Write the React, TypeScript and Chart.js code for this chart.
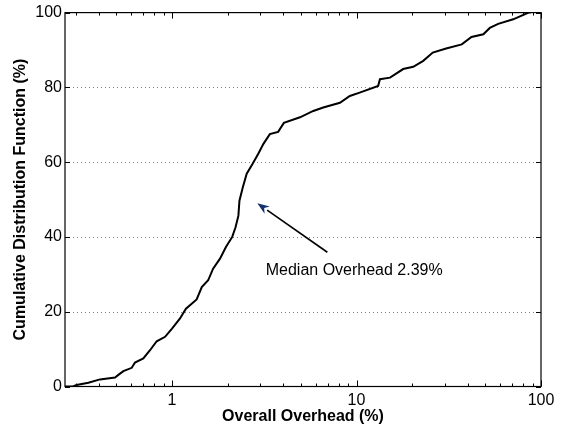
import { useEffect, useRef } from "react";
import { Chart, registerables } from "chart.js";
Chart.register(...registerables);

const cdfX = [0.263, 0.29, 0.304, 0.352, 0.407, 0.491, 0.512, 0.545, 0.605, 0.63, 0.699, 0.76, 0.826, 0.917, 1.0, 1.105, 1.19, 1.36, 1.45, 1.57, 1.67, 1.82, 1.96, 2.12, 2.21, 2.29, 2.32, 2.42, 2.54, 2.73, 2.93, 3.13, 3.39, 3.76, 4.04, 4.94, 5.83, 6.6, 8.13, 9.2, 10.4, 13.1, 13.4, 15.2, 17.9, 20.3, 23, 25.9, 30.6, 37.2, 42, 48.7, 52.8, 58.6, 70.7, 85.6, 88];
const cdfY = [0, 0, 0.4, 1.0, 1.9, 2.4, 3.1, 4.1, 5.0, 6.4, 7.5, 9.7, 12.1, 13.3, 15.5, 18.2, 20.8, 23.3, 26.6, 28.4, 31.5, 34.2, 37.3, 40, 42.6, 45.7, 49.7, 53.3, 56.9, 59.5, 62.2, 64.9, 67.5, 68.1, 70.5, 72, 73.7, 74.6, 75.9, 77.7, 78.6, 80.4, 82.2, 82.6, 84.9, 85.5, 87.1, 89.3, 90.4, 91.5, 93.5, 94.2, 95.9, 97, 98.2, 100, 100];

const xMin = 0.263;
const xMax = 100;
const xTickValues = [1, 10, 100];
const xMinorValues = [0.3, 0.4, 0.5, 0.6, 0.7, 0.8, 0.9, 2, 3, 4, 5, 6, 7, 8, 9, 20, 30, 40, 50, 60, 70, 80, 90];
const yTickValues = [0, 20, 40, 60, 80, 100];
const gridValues = [20, 40, 60, 80];

const annotationText = "Median Overhead 2.39%";
const arrowTail = [6.95, 35.9];
const arrowTip = [2.9, 49.0];
const labelPos = [3.22, 31.1];

const xTitle = "Overall Overhead (%)";
const yTitle = "Cumulative Distribution Function (%)";

const FONT = "'Liberation Sans', Arial, Helvetica, sans-serif";

const decor = {
  id: "decor",
  beforeDatasetsDraw(chart: any) {
    const { ctx, chartArea: a, scales } = chart;
    const y = scales.y;
    ctx.save();
    ctx.strokeStyle = "#808080";
    ctx.lineWidth = 1;
    ctx.setLineDash([1, 3]);
    for (const v of gridValues) {
      const py = Math.round(y.getPixelForValue(v)) + 0.5;
      ctx.beginPath();
      ctx.moveTo(a.left, py);
      ctx.lineTo(a.right, py);
      ctx.stroke();
    }
    ctx.restore();
  },
  afterDatasetsDraw(chart: any) {
    const { ctx, chartArea: a, scales } = chart;
    const x = scales.x;
    const y = scales.y;
    ctx.save();
    ctx.strokeStyle = "#000";
    ctx.lineWidth = 1.2;
    ctx.setLineDash([]);
    ctx.strokeRect(a.left, a.top, a.right - a.left, a.bottom - a.top);
    ctx.lineWidth = 1;
    ctx.beginPath();
    for (const v of xTickValues) {
      const px = Math.round(x.getPixelForValue(v)) + 0.5;
      ctx.moveTo(px, a.bottom);
      ctx.lineTo(px, a.bottom - 6);
      ctx.moveTo(px, a.top);
      ctx.lineTo(px, a.top + 6);
    }
    for (const v of xMinorValues) {
      const px = Math.round(x.getPixelForValue(v)) + 0.5;
      ctx.moveTo(px, a.bottom);
      ctx.lineTo(px, a.bottom - 3);
      ctx.moveTo(px, a.top);
      ctx.lineTo(px, a.top + 3);
    }
    for (const v of yTickValues) {
      const py = Math.round(y.getPixelForValue(v)) + 0.5;
      ctx.moveTo(a.left, py);
      ctx.lineTo(a.left + 5, py);
      ctx.moveTo(a.right, py);
      ctx.lineTo(a.right - 5, py);
    }
    ctx.stroke();

    // annotation arrow
    const tx = x.getPixelForValue(arrowTail[0]);
    const ty = y.getPixelForValue(arrowTail[1]);
    const hx = x.getPixelForValue(arrowTip[0]);
    const hy = y.getPixelForValue(arrowTip[1]);
    const ang = Math.atan2(hy - ty, hx - tx);
    const headLen = 12;
    const headW = 4.5;
    const bx = hx - headLen * Math.cos(ang);
    const by = hy - headLen * Math.sin(ang);
    ctx.strokeStyle = "#000";
    ctx.lineWidth = 1.6;
    ctx.beginPath();
    ctx.moveTo(tx, ty);
    ctx.lineTo(bx, by);
    ctx.stroke();
    ctx.fillStyle = "#14306e";
    ctx.beginPath();
    ctx.moveTo(hx, hy);
    ctx.lineTo(bx + headW * Math.sin(ang), by - headW * Math.cos(ang));
    ctx.lineTo(hx - 0.7 * headLen * Math.cos(ang), hy - 0.7 * headLen * Math.sin(ang));
    ctx.lineTo(bx - headW * Math.sin(ang), by + headW * Math.cos(ang));
    ctx.closePath();
    ctx.fill();

    // annotation text
    ctx.fillStyle = "#000";
    ctx.font = `16px ${FONT}`;
    ctx.textAlign = "left";
    ctx.textBaseline = "middle";
    ctx.fillText(annotationText, x.getPixelForValue(labelPos[0]), y.getPixelForValue(labelPos[1]));

    // titles
    ctx.font = `bold 16px ${FONT}`;
    ctx.textAlign = "center";
    ctx.textBaseline = "middle";
    ctx.fillText(xTitle, (a.left + a.right) / 2, 417);
    ctx.translate(21, (a.top + a.bottom) / 2);
    ctx.rotate(-Math.PI / 2);
    ctx.fillText(yTitle, 0, 0);
    ctx.restore();
  },
};

export default function App() {
  const ref = useRef<HTMLCanvasElement | null>(null);
  useEffect(() => {
    if (!ref.current) return;
    const chart = new Chart(ref.current, {
      type: "line",
      data: {
        datasets: [
          {
            data: cdfX.map((v, i) => ({ x: v, y: cdfY[i] })),
            borderColor: "#000",
            borderWidth: 2,
            pointRadius: 0,
            tension: 0,
            fill: false,
          },
        ],
      },
      options: {
        animation: false,
        responsive: false,
        devicePixelRatio: 1,
        layout: { padding: { top: 12, right: 20, left: 0, bottom: 0 } },
        plugins: { legend: { display: false }, tooltip: { enabled: false } },
        scales: {
          x: {
            type: "logarithmic",
            min: xMin,
            max: xMax,
            afterBuildTicks: (s: any) => {
              s.ticks = xTickValues.map((v) => ({ value: v }));
            },
            afterFit: (s: any) => {
              s.height = 43.5;
            },
            ticks: {
              callback: (v: any) => String(v),
              font: { size: 16, family: FONT },
              color: "#000",
              padding: 4,
              maxRotation: 0,
              autoSkip: false,
            },
            grid: { display: false, drawTicks: false },
            border: { display: false },
          },
          y: {
            type: "linear",
            min: 0,
            max: 100,
            afterBuildTicks: (s: any) => {
              s.ticks = yTickValues.map((v) => ({ value: v }));
            },
            afterFit: (s: any) => {
              s.width = 65;
            },
            ticks: {
              font: { size: 16, family: FONT },
              color: "#000",
              padding: 3,
            },
            grid: { display: false, drawTicks: false },
            border: { display: false },
          },
        },
      },
      plugins: [decor],
    } as any);
    return () => chart.destroy();
  }, []);
  return (
    <div style={{ position: "absolute", left: 0, top: 0, width: 561, height: 430, background: "#fff" }}>
      <canvas ref={ref} width={561} height={430} />
    </div>
  );
}
